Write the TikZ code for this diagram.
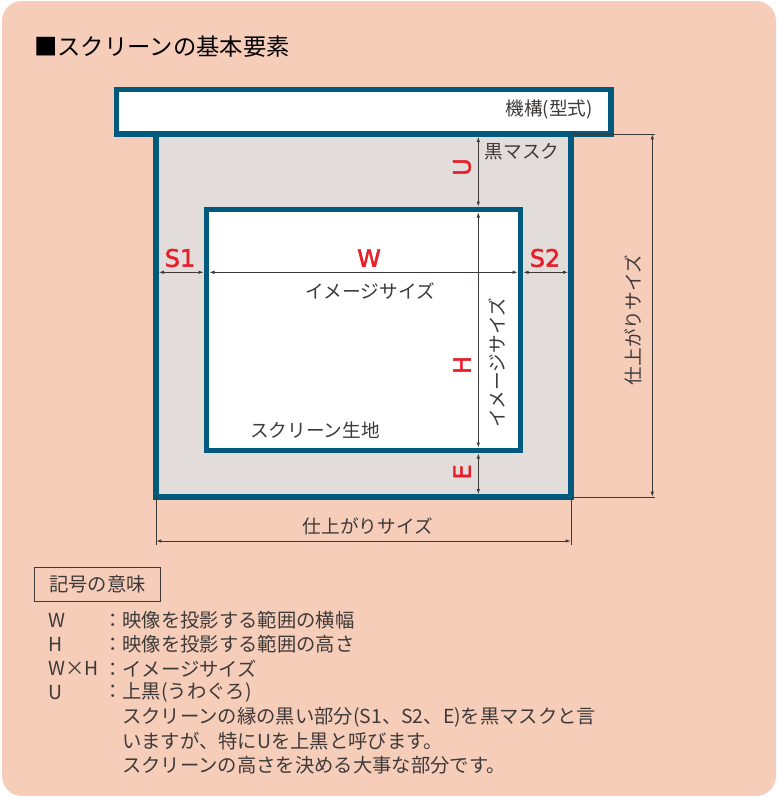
\documentclass[tikz,border=0pt]{standalone}
\usepackage{fontspec}
\setmainfont{Noto Sans CJK JP}
\newfontfamily\markfont[FakeBold=2]{DejaVu Sans}
\usetikzlibrary{arrows.meta}

\definecolor{bgpeach}{RGB}{246,205,185}
\definecolor{maskgray}{RGB}{226,221,219}
\definecolor{frameteal}{RGB}{0,90,125}
\definecolor{markred}{RGB}{232,30,40}
\definecolor{inkgray}{RGB}{62,58,57}

\tikzset{
  screenframe/.style={draw=frameteal, line width=3.9pt},
  dimline/.style={draw=inkgray, line width=0.7pt,
    {Latex[length=4pt,width=2.6pt]}-{Latex[length=4pt,width=2.6pt]}},
  inside/.style={shorten <=2pt, shorten >=2pt},
  extline/.style={draw=inkgray, line width=0.7pt},
  marklabel/.style={text=markred, font=\markfont\fontsize{18}{18}\selectfont, inner sep=0pt},
  jplabel/.style={text=inkgray, font=\fontsize{14}{14}\selectfont, inner sep=0pt},
  keytext/.style={text=inkgray, font=\fontsize{14.5}{14.5}\selectfont, inner sep=0pt, anchor=west},
}

\begin{document}
\begin{tikzpicture}[x=0.75pt, y=-0.75pt]
    \pgfmathsetmacro\ly{620};
    \pgfmathsetmacro\lh{24.2};

    \useasboundingbox (0,0) rectangle (776,796);
    \fill[bgpeach, rounded corners=15pt] (2,1) rectangle (776,796);

    \node[anchor=west, inner sep=0pt, font=\fontsize{17.5}{17.5}\selectfont] (title) at (34,47) {■スクリーンの基本要素};

    % screen parts
    \coordinate (scrTL) at (156,134);
    \coordinate (scrBR) at (571,497);
    \coordinate (imgTL) at (206.5,209.5);
    \coordinate (imgBR) at (520.5,450.5);
    \coordinate (mechTL) at (116.5,89.5);
    \coordinate (mechBR) at (611,134);

    \filldraw[screenframe, fill=maskgray] (scrTL) rectangle (scrBR);
    \filldraw[screenframe, fill=white] (imgTL) rectangle (imgBR);
    \filldraw[screenframe, fill=white] (mechTL) rectangle (mechBR);

    % dimensions
    \coordinate (vdim) at (478.3,0);
    \coordinate (hdim) at (0,272.3);
    \coordinate (rdim) at (652.3,0);
    \coordinate (rext) at (655,0);
    \coordinate (bdim) at (0,541);
    \coordinate (bext) at (0,545);

    \draw[dimline, inside] (vdim |- scrTL) -- (vdim |- imgTL);
    \draw[dimline, inside] (vdim |- imgTL) -- (vdim |- imgBR);
    \draw[dimline, inside] (vdim |- imgBR) -- (vdim |- scrBR);
    \draw[dimline, inside] (scrTL |- hdim) -- (imgTL |- hdim);
    \draw[dimline, inside] (imgTL |- hdim) -- (imgBR |- hdim);
    \draw[dimline, inside] (imgBR |- hdim) -- (scrBR |- hdim);

    \draw[extline] (scrBR |- scrTL) -- (rext |- scrTL);
    \draw[extline] (scrBR) -- (rext |- scrBR);
    \draw[extline] (scrTL |- scrBR) -- (scrTL |- bext);
    \draw[extline] (scrBR) -- (scrBR |- bext);
    \draw[dimline] (rdim |- scrTL) -- (rdim |- scrBR);
    \draw[dimline] (scrTL |- bdim) -- (scrBR |- bdim);

    \node[marklabel, rotate=90] (U) at (462,167) {U};
    \node[marklabel, rotate=90] (H) at (462,365) {H};
    \node[marklabel, rotate=90] (E) at (462,472) {E};
    \node[marklabel] (S1) at (180,258) {S1};
    \node[marklabel] (W) at (369,258) {W};
    \node[marklabel] (S2) at (545,258) {S2};

    \node[jplabel, anchor=east] (mech) at (593,109.5) {機構(型式)};
    \node[jplabel] (mask) at (522,152) {黒マスク};
    \node[jplabel] (imgw) at (370,291) {イメージサイズ};
    \node[jplabel, rotate=90] (imgh) at (497,363) {イメージサイズ};
    \node[jplabel] (cloth) at (315,430) {スクリーン生地};
    \node[jplabel, rotate=90] (finh) at (633,320) {仕上がりサイズ};
    \node[jplabel] (finw) at (368,526) {仕上がりサイズ};

    % key
    \node[keytext, anchor=center, draw=inkgray, line width=0.75pt,
          minimum width=94pt, minimum height=25.5pt] (keyhead) at (97.5,584) {記号の意味};

    \node[keytext] (kW) at (48, \ly) {W};
    \node[keytext] (kH) at (48, \ly + \lh) {H};
    \node[keytext] (kWH) at (48, \ly + 2 * \lh) {W×H};
    \node[keytext] (kU) at (48, \ly + 3 * \lh) {U};
    \node[keytext] (dW) at (103, \ly) {：映像を投影する範囲の横幅};
    \node[keytext] (dH) at (103, \ly + \lh) {：映像を投影する範囲の高さ};
    \node[keytext] (dWH) at (103, \ly + 2 * \lh) {：イメージサイズ};
    \node[keytext] (dU) at (103, \ly + 3 * \lh) {：上黒(うわぐろ)};
    \node[keytext] (dU1) at (122, \ly + 4 * \lh) {スクリーンの縁の黒い部分(S1、S2、E)を黒マスクと言};
    \node[keytext] (dU2) at (122, \ly + 5 * \lh) {いますが、特にUを上黒と呼びます。};
    \node[keytext] (dU3) at (122, \ly + 6 * \lh) {スクリーンの高さを決める大事な部分です。};
\end{tikzpicture}
\end{document}
